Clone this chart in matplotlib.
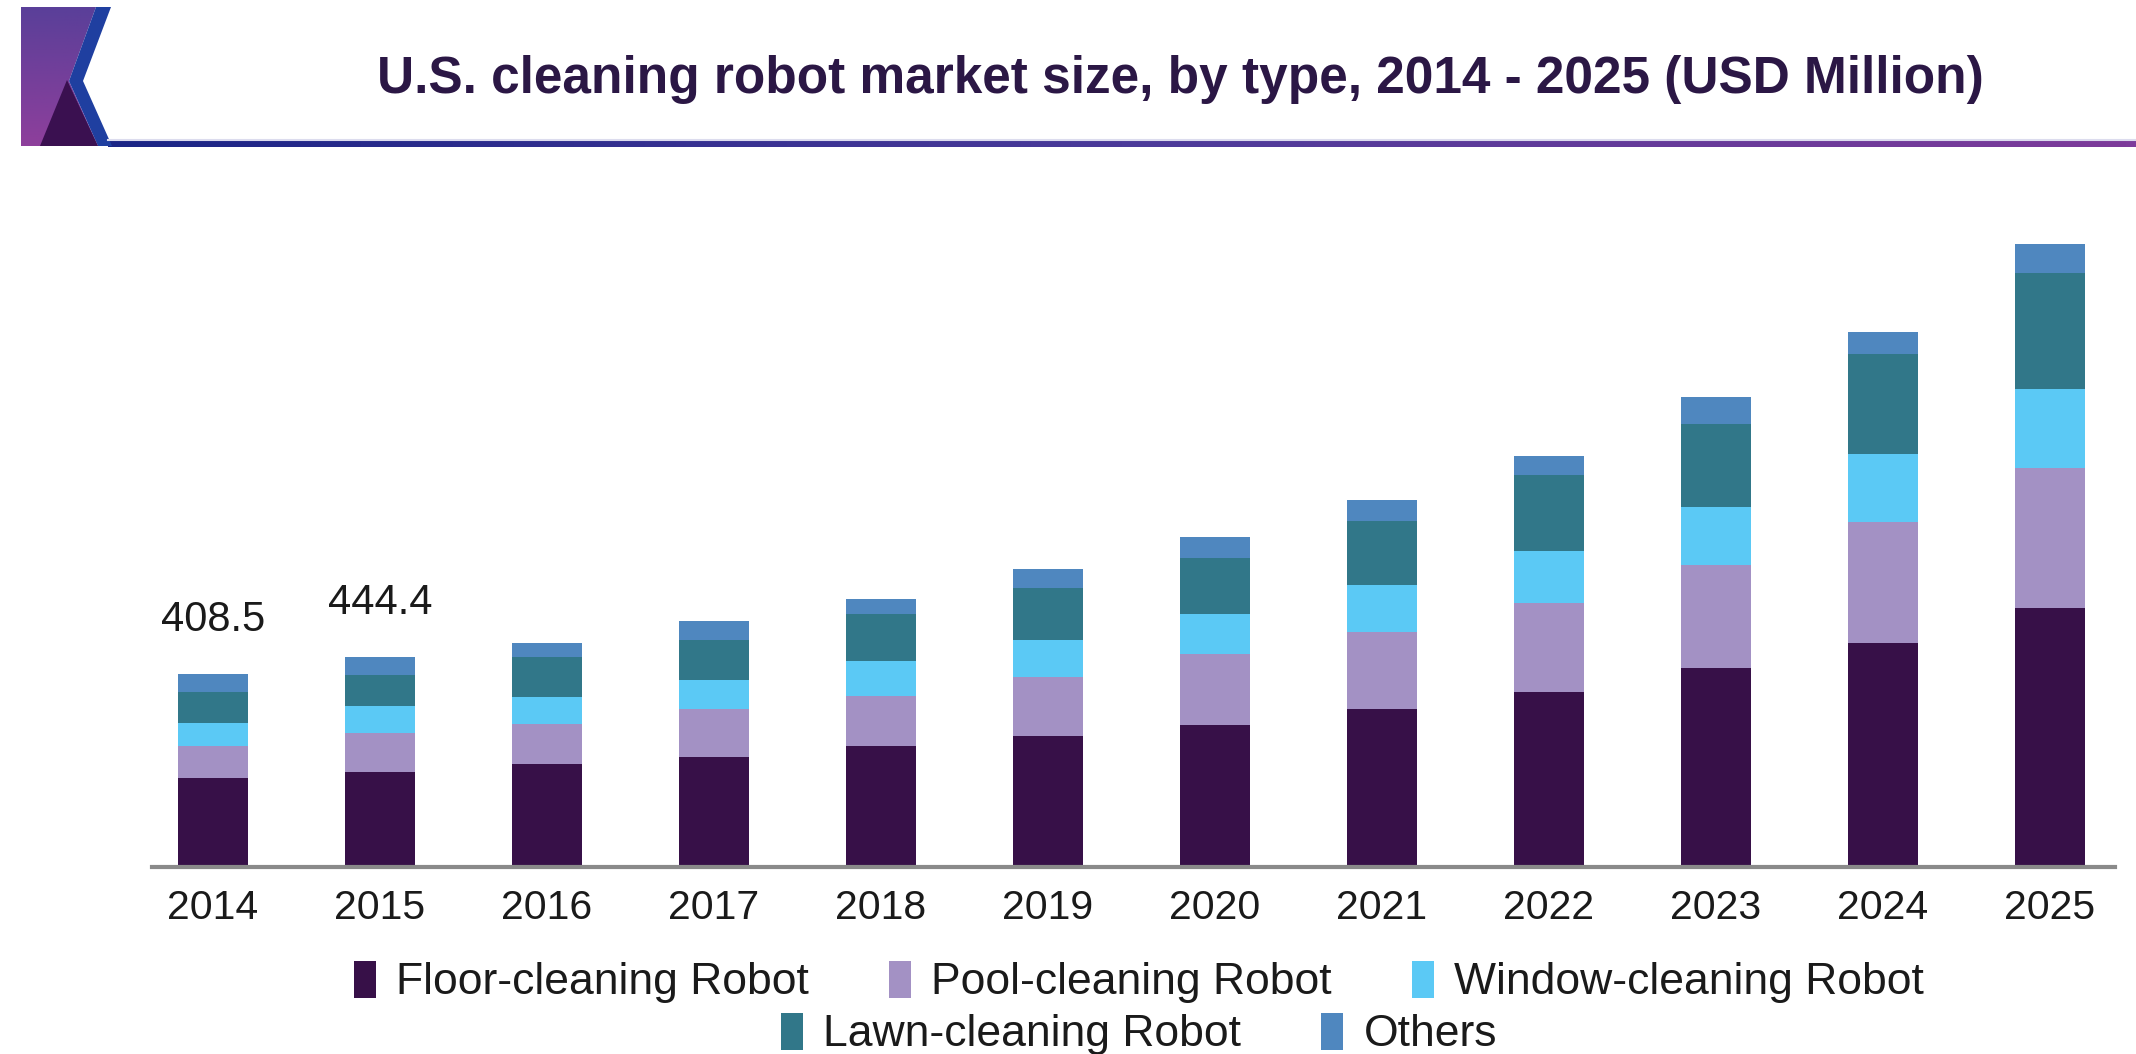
import numpy as np
import matplotlib
matplotlib.use("Agg")
import matplotlib.pyplot as plt
from matplotlib.patches import Polygon, Patch
from matplotlib.colors import LinearSegmentedColormap

plt.rcParams["font.family"] = ["Liberation Sans", "DejaVu Sans"]

years = ["2014", "2015", "2016", "2017", "2018", "2019",
         "2020", "2021", "2022", "2023", "2024", "2025"]
floor = [187.5, 202.0, 217.0, 232.0, 257.0, 278.0, 301.0, 334.0, 370.5, 420.0, 473.0, 547.5]
pool = [69.5, 81.0, 86.0, 102.0, 105.5, 124.5, 149.0, 164.0, 188.6, 219.4, 257.6, 296.5]
window = [48.5, 57.4, 56.0, 61.0, 72.4, 78.0, 86.0, 98.5, 110.4, 121.5, 142.2, 167.3]
lawn = [65.0, 65.5, 86.0, 85.0, 100.0, 110.0, 117.0, 136.5, 159.7, 177.0, 213.0, 244.8]
others = [38.0, 38.5, 28.0, 40.0, 31.7, 39.0, 46.0, 43.0, 40.7, 56.3, 46.0, 62.5]
labelled_years = ["2014", "2015"]

series_names = ["Floor-cleaning Robot", "Pool-cleaning Robot", "Window-cleaning Robot",
                "Lawn-cleaning Robot", "Others"]
colors = ["#371048", "#a391c4", "#5bc9f5", "#317789", "#4f87bf"]

W, H = 2136, 1054
fig = plt.figure(figsize=(W / 100, H / 100), dpi=100)

# header decoration (logo + gradient rule), drawn in pixel coordinates
deco = fig.add_axes([0, 0, 1, 1], zorder=0)
deco.set_xlim(0, W)
deco.set_ylim(H, 0)
deco.axis("off")

purple_cmap = LinearSegmentedColormap.from_list("logo", ["#5a3f99", "#8e3f9c"])
back = Polygon([(21, 7), (96, 7), (69, 81), (98, 146), (21, 146)], closed=True,
               facecolor="none", edgecolor="none")
deco.add_patch(back)
grad = deco.imshow(np.linspace(0, 1, 100).reshape(-1, 1), cmap=purple_cmap,
                   extent=(21, 111, 146, 7), aspect="auto")
grad.set_clip_path(back)
deco.add_patch(Polygon([(96, 7), (111, 7), (83, 81), (112, 146), (98, 146), (69, 81)],
                       closed=True, facecolor="#1f3fa0", edgecolor="none"))
deco.add_patch(Polygon([(40, 146), (67, 80), (98, 146)], closed=True,
                       facecolor="#3a1050", edgecolor="none"))

rule_cmap = LinearSegmentedColormap.from_list("rule", ["#1b2586", "#4b3a9a", "#7d3b9b"])
deco.imshow(np.linspace(0, 1, 200).reshape(1, -1), cmap=rule_cmap,
            extent=(108, W, 147, 141), aspect="auto")
deco.plot([108, W], [139.5, 139.5], color="#dcdcee", linewidth=1.5)
deco.set_xlim(0, W)
deco.set_ylim(H, 0)

fig.text(1180 / W, 1 - 80 / H, "U.S. cleaning robot market size, by type, 2014 - 2025 (USD Million)",
         ha="center", va="center", fontsize=37, fontweight="bold", color="#2b1745")

# main chart
ax = fig.add_axes([152 / W, 1 - 867 / H, (2115 - 152) / W, (867 - 200) / H], zorder=1)
ax.set_facecolor("none")
x = np.arange(len(years))
bottom = np.zeros(len(years))
for name, values, color in zip(series_names, [floor, pool, window, lawn, others], colors):
    ax.bar(x, values, width=0.42, bottom=bottom, color=color, label=name, zorder=2)
    bottom += np.asarray(values)

for i, year in enumerate(years):
    if year in labelled_years:
        ax.annotate(f"{bottom[i]:.1f}", (x[i], bottom[i]), xytext=(0, 31),
                    textcoords="offset points", ha="center", va="baseline",
                    fontsize=30, color="#1a1a1a")

ax.set_xlim(-0.365, 11.39)
ax.set_ylim(0, 1411)
ax.set_xticks(x)
ax.set_xticklabels(years, fontsize=29.5, color="#1a1a1a")
ax.tick_params(axis="x", length=0, pad=16)
ax.set_yticks([])
for side in ["top", "right", "left"]:
    ax.spines[side].set_visible(False)
ax.spines["bottom"].set_color("#8a8a8a")
ax.spines["bottom"].set_linewidth(3)
ax.spines["bottom"].set_zorder(3)

# legend: centred first row of three, second row of two
handles = [Patch(facecolor=c, edgecolor="none") for c in colors]
leg_kw = dict(frameon=False, fontsize=32, handlelength=0.5, handleheight=0.9,
              handletextpad=0.45, columnspacing=1.8, loc="center", labelcolor="#1a1a1a")
fig.legend(handles[:3], series_names[:3], ncol=3,
           bbox_to_anchor=(1139 / W, 1 - 982 / H), **leg_kw)
fig.legend(handles[3:], series_names[3:], ncol=2,
           bbox_to_anchor=(1139 / W, 1 - 1034 / H), **leg_kw)

fig.savefig("out.png", dpi=100)
